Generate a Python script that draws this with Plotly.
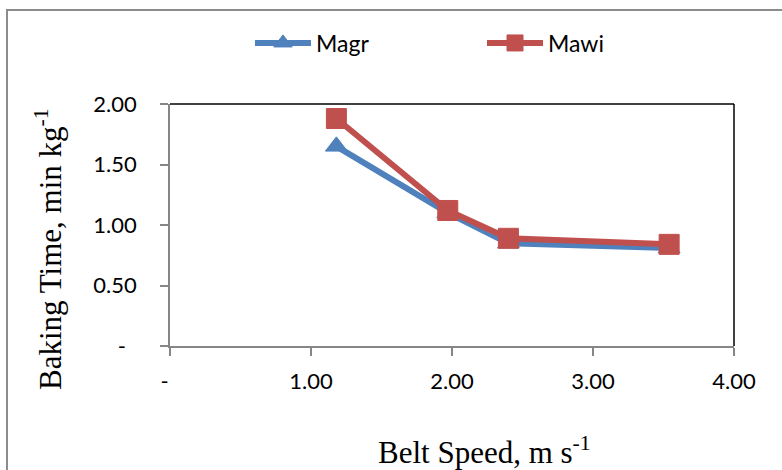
import plotly.graph_objects as go

belt_speed = [1.18, 1.97, 2.40, 3.54]
magr = [1.65, 1.10, 0.85, 0.81]
mawi = [1.88, 1.12, 0.89, 0.84]

x_tickvals = [0, 1, 2, 3, 4]
x_ticktext = ["-\u2002", "1.00", "2.00", "3.00", "4.00"]
y_tickvals = [0, 0.5, 1.0, 1.5, 2.0]
y_ticktext = ["-\u2002", "0.50", "1.00", "1.50", "2.00"]

BLUE = "#4F81BD"
RED = "#C0504D"

fig = go.Figure()
fig.add_trace(go.Scatter(
    x=belt_speed, y=magr, name="Magr", mode="lines+markers",
    line=dict(color=BLUE, width=6),
    marker=dict(symbol="triangle-up", size=19, color=BLUE, line=dict(color=BLUE, width=1)),
    cliponaxis=False,
))
fig.add_trace(go.Scatter(
    x=belt_speed, y=mawi, name="Mawi", mode="lines+markers",
    line=dict(color=RED, width=6),
    marker=dict(symbol="square", size=20, color=RED, line=dict(color=RED, width=1)),
    cliponaxis=False,
))

L, R, T, B = 170, 48, 104, 124
W, H = 782, 470
pw = W - L - R
ph = H - T - B

def px(xp):
    return (xp - L) / pw

def py(yp):
    return (H - B - yp) / ph

fig.update_layout(
    width=W, height=H,
    margin=dict(l=L, r=R, t=T, b=B, pad=0),
    paper_bgcolor="white", plot_bgcolor="white",
    font=dict(family="Lato, 'Open Sans', sans-serif", size=22, color="black"),
    showlegend=True,
    legend=dict(
        orientation="h", x=px(250), xanchor="left", y=py(43), yanchor="middle",
        itemwidth=56, entrywidth=161, entrywidthmode="pixels",
        font=dict(size=23), bgcolor="rgba(0,0,0,0)", tracegroupgap=0,
        itemsizing="trace",
    ),
    xaxis=dict(
        range=[0, 4], tickvals=x_tickvals, ticktext=x_ticktext,
        showgrid=False, zeroline=False, showline=True, linecolor="#868686", linewidth=1.5,
        ticks="outside", ticklen=8, tickcolor="#868686", tickwidth=1.5,
        ticklabelstandoff=7,
    ),
    yaxis=dict(
        range=[0, 2], tickvals=y_tickvals, ticktext=y_ticktext,
        showgrid=False, zeroline=False, showline=True, linecolor="#868686", linewidth=1.5,
        ticks="outside", ticklen=8, tickcolor="#868686", tickwidth=1.5,
        ticklabelstandoff=19,
    ),
    shapes=[
        dict(type="rect", xref="paper", yref="paper",
             x0=px(7), x1=px(800), y0=py(490), y1=py(10),
             line=dict(color="#8C8C8C", width=2), fillcolor="rgba(0,0,0,0)", layer="below"),
        dict(type="line", xref="paper", yref="paper", x0=0, x1=1, y0=1, y1=1,
             line=dict(color="black", width=1.5)),
        dict(type="line", xref="paper", yref="paper", x0=1, x1=1, y0=0, y1=1,
             line=dict(color="black", width=1.5)),
    ],
    annotations=[
        dict(text="Belt Speed, m s<sup>-1</sup>", xref="paper", yref="paper",
             x=px(484), y=py(450), xanchor="center", yanchor="middle", showarrow=False,
             font=dict(family="'Liberation Serif', 'Times New Roman', serif", size=31, color="black")),
        dict(text="Baking Time, min kg<sup>-1</sup>", xref="paper", yref="paper",
             x=px(48), y=py(249), xanchor="center", yanchor="middle", showarrow=False,
             textangle=-90,
             font=dict(family="'Liberation Serif', 'Times New Roman', serif", size=31, color="black")),
    ],
)

fig.write_html("out.html", config={"displayModeBar": False},
               post_script="document.body.style.margin='0';document.body.style.overflow='hidden';")
